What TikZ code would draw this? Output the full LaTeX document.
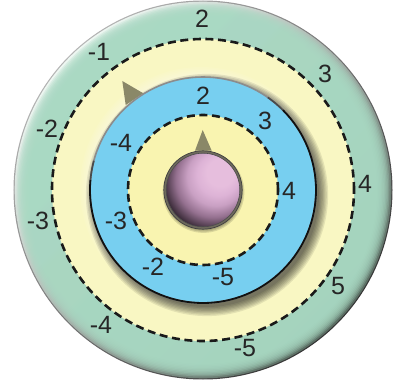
\documentclass[tikz,border=0pt]{standalone}
\usepackage{fontspec}
\setmainfont{Liberation Sans}
\definecolor{mint}{HTML}{A9D9C3}
\definecolor{ringTop}{HTML}{B4B4B4}
\definecolor{ringBot}{HTML}{353535}
\definecolor{bevL}{HTML}{EEF7F2}
\definecolor{bevD}{HTML}{5A6E63}
\definecolor{yelO}{HTML}{F9F7C3}
\definecolor{yelI}{HTML}{F9F4B0}
\definecolor{blueC}{HTML}{77CFF0}
\definecolor{rimG}{HTML}{8C8C8C}
\definecolor{rimM}{HTML}{4A4A4A}
\definecolor{rimD}{HTML}{111111}
\definecolor{tri}{HTML}{8A8868}
\definecolor{dashc}{HTML}{1A1A1A}
\definecolor{txt}{HTML}{262626}
\definecolor{pinkL}{HTML}{E6BEDD}
\definecolor{pinkM}{HTML}{DDB3D6}
\definecolor{pinkMM}{HTML}{C9A0C3}
\definecolor{pinkQ}{HTML}{94708F}
\definecolor{pinkD}{HTML}{3E2E3C}
\definecolor{pinkRim}{HTML}{6E6A5C}
\pgfdeclareradialshading{pinkball}{\pgfpoint{14bp}{14bp}}{color(0bp)=(pinkL); color(9bp)=(pinkL); color(14bp)=(pinkM); color(19bp)=(pinkMM); color(25bp)=(pinkQ); color(31bp)=(pinkD); color(50bp)=(pinkD)}
\begin{document}
\begin{tikzpicture}[x=1pt,y=1pt,
  lab/.style={font=\fontsize{25}{25}\selectfont, text=txt, inner sep=0pt},
  dashring/.style={draw=dashc, line width=2.6pt, dash pattern=on 8pt off 4.6pt}]
\useasboundingbox (-203,-198) rectangle (193,190);
\coordinate (C) at (0,0);
% outer green ring with bevel
\shade[top color=ringTop, bottom color=ringBot, shading angle=45] (C) circle (189.5);
\shade[top color=bevL, bottom color=bevD, shading angle=45] (C) circle (188.3);
\foreach \i in {0,...,9} \fill[mint, opacity=0.28] (C) circle ({186.5-1.4*\i});
% outer yellow band
\fill[yelO] (C) circle (151);
\foreach \i in {1,...,5} \fill[white, opacity=0.07] (-2,2) circle ({113+1.6*\i});
\foreach \i in {0,...,7} \fill[black, opacity=0.085] (4,-5) circle ({112+1.3*\i});
\draw[dashring] (C) circle (151);
% outer marker triangle
\fill[tri] (-80.7,109) -- (-59.7,96.7) -- (-77.3,85) -- cycle;
% blue disk
\fill[blueC] (C) circle (113);
\draw[line width=1.6pt, draw=rimG] (C) circle (113);
\draw[line width=1.7pt, draw=rimM] (55:113) arc[start angle=55, end angle=45, radius=113];
\draw[line width=1.7pt, draw=rimM] (-185:113) arc[start angle=-185, end angle=-195, radius=113];
\draw[line width=1.8pt, draw=rimD] (45:113) arc[start angle=45, end angle=-185, radius=113];
% inner yellow
\fill[yelI] (C) circle (75);
\draw[dashring] (C) circle (75);
% inner marker triangle
\fill[tri] (-0.3,60) -- (8.7,39.3) -- (-8,39.3) -- cycle;
% pink knob
\foreach \i in {0,1,2} \fill[black, opacity=0.12] (0.5,-2) circle ({38.5+1.2*\i});
\shade[shading=pinkball] (C) circle (38);
\draw[line width=2.4pt, draw=pinkRim] (C) circle (38);
\draw[line width=0.7pt, draw=black!75] (C) circle (39.2);
\draw[line width=0.6pt, draw=black!70] (C) circle (36.8);
% outer labels
\node[lab] (o2)  at (-1,171)   {2};
\node[lab] (om1) at (-104,138) {-1};
\node[lab] (o3)  at (122,116)  {3};
\node[lab] (om2) at (-156,61)  {-2};
\node[lab] (o4)  at (162,6)    {4};
\node[lab] (om3) at (-165,-31) {-3};
\node[lab] (o5)  at (135,-96)  {5};
\node[lab] (om4) at (-102,-135){-4};
\node[lab] (om5) at (42,-158)  {-5};
% inner labels
\node[lab] (i2)  at (0,94)     {2};
\node[lab] (i3)  at (62,69)    {3};
\node[lab] (im4) at (-82,47)   {-4};
\node[lab] (i4)  at (86,-1)    {4};
\node[lab] (im3) at (-87,-31)  {-3};
\node[lab] (im2) at (-50,-77)  {-2};
\node[lab] (im5) at (20,-87)   {-5};
\end{tikzpicture}
\end{document}
